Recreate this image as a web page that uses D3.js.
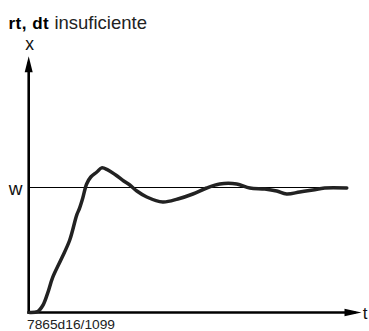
<!DOCTYPE html>
<html><head><meta charset="utf-8">
<script src="https://cdn.jsdelivr.net/npm/d3@7"></script>
<style>body{margin:0;background:#fff}svg{display:block}</style>
</head><body>
<script>
// Step response with insufficient rt, dt (normalised: setpoint w = 1)
const timeValues = [0.03,0.28,0.44,0.59,0.75,1.03,1.28,1.5,1.59,1.69,1.81,1.94,2.13,2.28,2.47,2.72,2.97,3.16,3.38,3.69,4.19,4.66,5.13,5.56,5.97,6.5,6.91,7.38,7.75,8.06,8.47,8.88,9.25,9.94];
const xValues =    [0.0,0.008,0.056,0.153,0.281,0.434,0.578,0.779,0.835,0.916,1.028,1.084,1.124,1.157,1.141,1.100,1.052,1.020,0.972,0.924,0.884,0.908,0.948,0.996,1.028,1.028,0.996,0.988,0.972,0.948,0.964,0.980,0.996,0.996];
const setpoint = 1;
const titleBold = "rt, dt";
const titleRest = " insuficiente";
const yLabel = "x";
const xLabel = "t";
const wLabel = "w";
const footer = "7865d16/1099";

const W = 369, H = 331;
const svg = d3.select("body").append("svg").attr("width", W).attr("height", H);

const x = d3.scaleLinear().domain([0, 10]).range([28.7, 348.7]);
const y = d3.scaleLinear().domain([0, 1]).range([312.5, 187.5]);
const tMax = 10.4, vMax = 2.05;

// setpoint line
svg.append("line")
  .attr("x1", x(0)).attr("x2", x(9.94))
  .attr("y1", y(setpoint)).attr("y2", y(setpoint))
  .attr("stroke", "#000").attr("stroke-width", 1);

// axes
svg.append("line").attr("x1", x(0)).attr("x2", x(0))
  .attr("y1", y(0) + 1.3).attr("y2", y(vMax) + 6)
  .attr("stroke", "#000").attr("stroke-width", 2.6);
svg.append("line").attr("x1", x(0) - 1.3).attr("x2", x(tMax) - 6)
  .attr("y1", y(0)).attr("y2", y(0))
  .attr("stroke", "#000").attr("stroke-width", 2.6);

// arrowheads
const ty = y(vMax), tx = x(tMax);
svg.append("path")
  .attr("d", `M${x(0)},${ty} L${x(0)+4},${ty+16} L${x(0)-4},${ty+16} Z`)
  .attr("fill", "#000");
svg.append("path")
  .attr("d", `M${tx},${y(0)} L${tx-17},${y(0)-3.8} L${tx-17},${y(0)+3.8} Z`)
  .attr("fill", "#000");

// curve
const data = timeValues.map((t, i) => [t, xValues[i]]);
svg.append("path").datum(data)
  .attr("d", d3.line().x(d => x(d[0])).y(d => y(d[1])).curve(d3.curveCatmullRom.alpha(0.5)))
  .attr("fill", "none").attr("stroke", "#222").attr("stroke-width", 3.5)
  .attr("stroke-linejoin", "round").attr("stroke-linecap", "round");

// texts
const font = "Liberation Sans, Arial, Helvetica, sans-serif";
const title = svg.append("text").attr("x", 8.5).attr("y", 29)
  .attr("font-family", font).attr("font-size", 18.5);
title.append("tspan").attr("font-weight", "bold").attr("fill", "#000").attr("font-size", 17).attr("letter-spacing", 0.5).text(titleBold);
title.append("tspan").attr("fill", "#222").text(titleRest);

svg.append("text").attr("x", x(0) + 0.8).attr("y", 50).attr("text-anchor", "middle")
  .attr("font-family", font).attr("font-size", 17.5).attr("fill", "#111").text(yLabel);
svg.append("text").attr("x", 15.5).attr("y", 194.5).attr("text-anchor", "middle")
  .attr("font-family", font).attr("font-size", 19).attr("fill", "#111").text(wLabel);
svg.append("text").attr("x", 365).attr("y", 318.5).attr("text-anchor", "middle")
  .attr("font-family", font).attr("font-size", 17).attr("fill", "#111").text(xLabel);
svg.append("text").attr("x", 27).attr("y", 328.5)
  .attr("font-family", font).attr("font-size", 12).attr("fill", "#222")
  .attr("textLength", 88).attr("lengthAdjust", "spacingAndGlyphs").text(footer);
</script>
</body></html>
